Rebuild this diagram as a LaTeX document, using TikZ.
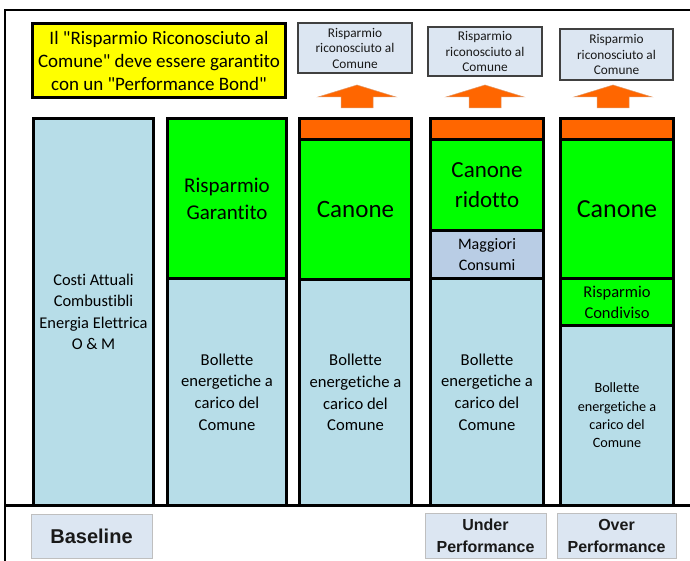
\documentclass[tikz,border=0pt]{standalone}
\usepackage{fontspec}
\setmainfont{Carlito}[Ligatures={TeXOff,NoCommon}]
\newfontfamily\labfont{Liberation Sans}
\definecolor{lblue}{HTML}{B7DDE8}
\definecolor{lgreen}{HTML}{00FF00}
\definecolor{orng}{HTML}{FF6600}
\definecolor{gblue}{HTML}{B9CDE5}
\definecolor{pale}{HTML}{DCE6F2}
\definecolor{yel}{HTML}{FFFF00}
\begin{document}
\begin{tikzpicture}[x=1pt,y=-1pt,
  seg/.style={draw=black, line width=3pt, inner sep=0pt, anchor=north west, align=center, text=black},
  topbox/.style={draw=black!75, line width=1.1pt, fill=pale, inner sep=0pt, align=center,
     font=\fontsize{13.3}{15.5}\selectfont, text=black!90},
  labbox/.style={draw=black!25, line width=1pt, fill=pale, inner sep=0pt, align=center, text=black!90},
  uparrow/.pic={\filldraw[fill=orng, draw=orng!80!black!60!white, line width=0.5pt]
     (-16,0) -- (-16,-11) -- (-39,-11) -- (0,-23) -- (39,-11) -- (16,-11) -- (16,0) -- cycle;}
]
\useasboundingbox (0,0) rectangle (690,561);
% frame
\draw[line width=1.5pt] (5,561) -- (5,10) -- (690,10);
\draw[line width=3pt] (5,505) -- (690,505);

% yellow box
\node[draw=black, line width=3pt, fill=yel, inner sep=0pt, minimum width=253pt, minimum height=74pt,
  align=center, font=\fontsize{19}{23}\selectfont] (note) at (159,60.5)
  {Il "Risparmio Riconosciuto al\\Comune" deve essere garantito\\con un "Performance Bond"};

% column 1
\node[seg, fill=lblue, minimum width=120pt, minimum height=387pt,
  font=\fontsize{16.4}{21.5}\selectfont] (c1) at (32,117)
  {Costi Attuali\\Combustibli\\Energia Elettrica\\O \& M};

% column 2
\node[seg, fill=lgreen, minimum width=119pt, minimum height=160pt,
  font=\fontsize{21}{27}\selectfont] (c2g) at (166,117) {Risparmio\\Garantito};
\node[seg, fill=lblue, minimum width=119pt, minimum height=227pt,
  font=\fontsize{16.6}{21.7}\selectfont] (c2b) at (166,277)
  {Bollette\\energetiche a\\carico del\\Comune};

% column 3
\node[seg, fill=orng, minimum width=112pt, minimum height=21pt] (c3o) at (298,117) {};
\node[seg, fill=lgreen, minimum width=112pt, minimum height=140pt,
  font=\fontsize{25}{30}\selectfont] (c3g) at (298,138) {Canone};
\node[seg, fill=lblue, minimum width=112pt, minimum height=226pt,
  font=\fontsize{16.6}{21.7}\selectfont] (c3b) at (298,278)
  {Bollette\\energetiche a\\carico del\\Comune};

% column 4
\node[seg, fill=orng, minimum width=113pt, minimum height=21pt] (c4o) at (429,117) {};
\node[seg, fill=lgreen, minimum width=113pt, minimum height=91pt,
  font=\fontsize{23}{30}\selectfont] (c4g) at (429,138) {Canone\\ridotto};
\node[seg, fill=gblue, minimum width=113pt, minimum height=48pt,
  font=\fontsize{16}{21}\selectfont] (c4m) at (429,229) {Maggiori\\Consumi};
\node[seg, fill=lblue, minimum width=113pt, minimum height=227pt,
  font=\fontsize{16.6}{21.7}\selectfont] (c4b) at (429,277)
  {Bollette\\energetiche a\\carico del\\Comune};

% column 5
\node[seg, fill=orng, minimum width=113pt, minimum height=21pt] (c5o) at (559,117) {};
\node[seg, fill=lgreen, minimum width=113pt, minimum height=139pt,
  font=\fontsize{26}{30}\selectfont] (c5g) at (559,138) {Canone};
\node[seg, fill=lgreen, minimum width=113pt, minimum height=47pt,
  font=\fontsize{16.5}{21}\selectfont] (c5r) at (559,277) {Risparmio\\Condiviso};
\node[seg, fill=lblue, minimum width=113pt, minimum height=180pt,
  font=\fontsize{14.2}{18.3}\selectfont] (c5b) at (559,324)
  {Bollette\\energetiche a\\carico del\\Comune};

% top boxes
\node[topbox, minimum width=114pt, minimum height=50pt] (t1) at (355,48)
  {Risparmio\\riconosciuto al\\Comune};
\node[topbox, minimum width=114pt, minimum height=49pt] (t2) at (485,51.5)
  {Risparmio\\riconosciuto al\\Comune};
\node[topbox, minimum width=113pt, minimum height=51pt] (t3) at (616.5,54.5)
  {Risparmio\\riconosciuto al\\Comune};

% arrows
\pic at (357,108) {uparrow};
\pic at (485,108) {uparrow};
\pic at (613,108) {uparrow};

% bottom labels
\node[labbox, minimum width=121pt, minimum height=44pt,
  font=\labfont\bfseries\fontsize{20}{24}\selectfont] (lb1) at (91.5,536) {Baseline};
\node[labbox, minimum width=121pt, minimum height=45pt,
  font=\labfont\bfseries\fontsize{16}{22}\selectfont] (lb2) at (485.5,535.5) {Under\\Performance};
\node[labbox, minimum width=119pt, minimum height=45pt,
  font=\labfont\bfseries\fontsize{16}{22}\selectfont] (lb3) at (616.5,535.5) {Over\\Performance};
\end{tikzpicture}
\end{document}
